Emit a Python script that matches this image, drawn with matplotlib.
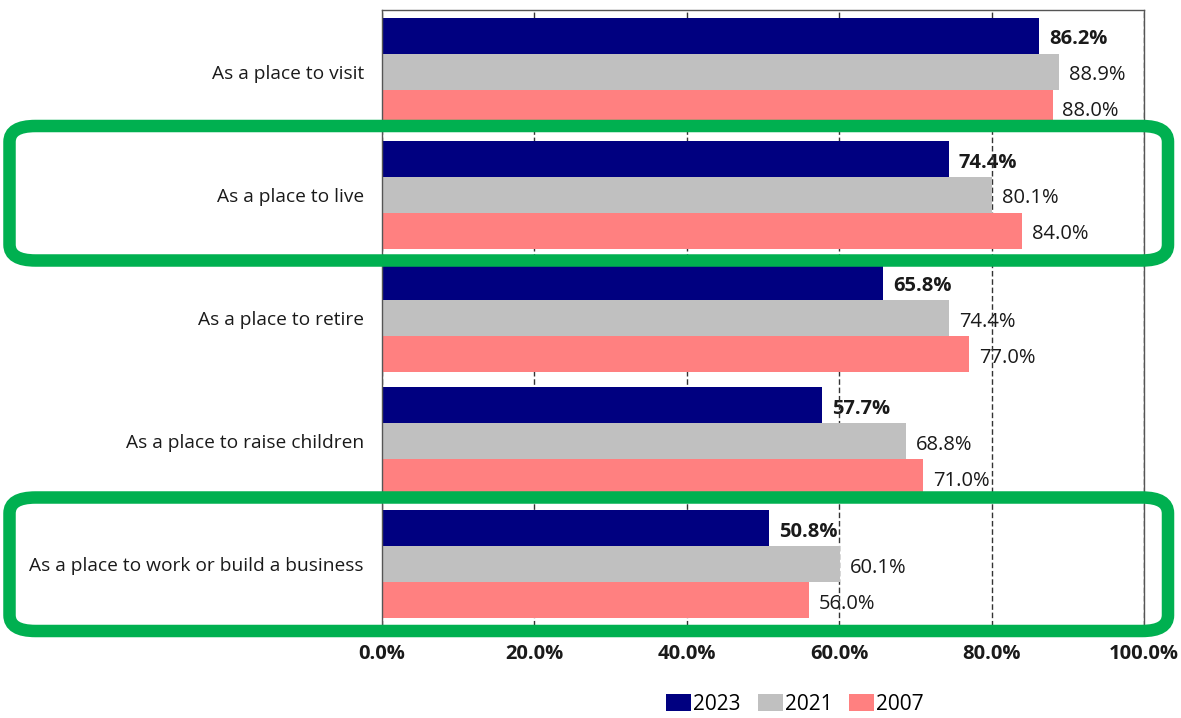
import numpy as np
import matplotlib.pyplot as plt
from matplotlib.patches import FancyBboxPatch

plt.rcParams["font.family"] = ["Open Sans", "DejaVu Sans"]

# ---------------- data ----------------
categories = [
    "As a place to visit",
    "As a place to live",
    "As a place to retire",
    "As a place to raise children",
    "As a place to work or build a business",
]
years = ["2023", "2021", "2007"]
vals_2023 = [86.2, 74.4, 65.8, 57.7, 50.8]
vals_2021 = [88.9, 80.1, 74.4, 68.8, 60.1]
vals_2007 = [88.0, 84.0, 77.0, 71.0, 56.0]
colors = ["#000080", "#C0C0C0", "#FF8080"]
x_ticks = [0, 20, 40, 60, 80, 100]

W, H = 1181, 718
fig = plt.figure(figsize=(W / 100, H / 100), dpi=100)
ax = fig.add_axes([382 / W, 1 - 626 / H, (1144 - 382) / W, (626 - 10) / H])

n = len(categories)
y = np.arange(n)
bh = 0.292
series = [vals_2023, vals_2021, vals_2007]
for i, (vals, col, yr) in enumerate(zip(series, colors, years)):
    pos = y + (i - 1) * bh
    ax.barh(pos, vals, height=bh, color=col, label=yr, zorder=2)
    for p, v in zip(pos, vals):
        ax.text(v + 1.3, p + 0.03, f"{v:.1f}%", va="center", ha="left",
                fontsize=14.5, color="#1a1a1a",
                fontweight="bold" if i == 0 else "normal", zorder=0.4)

ax.set_xlim(0, 100)
ax.set_ylim(n - 0.5, -0.5)
ax.set_yticks(y)
ax.set_yticklabels(categories, fontsize=13.8, color="#1a1a1a")
ax.set_xticks(x_ticks)
ax.set_xticklabels([f"{t:.1f}%" for t in x_ticks], fontsize=14.5,
                   fontweight="bold", color="#1a1a1a")
ax.tick_params(axis="x", length=0, pad=13)
ax.tick_params(axis="y", length=0, pad=13)
ax.set_axisbelow(True)
ax.xaxis.grid(True, color="#333333", linestyle=(0, (4, 2)), linewidth=1)
for s in ax.spines.values():
    s.set_color("#555555")
    s.set_linewidth(1)

fig.legend(loc="center", bbox_to_anchor=(795 / W, 1 - 704 / H), ncol=3,
           frameon=False, fontsize=15, handlelength=1.2, handleheight=0.9,
           handletextpad=0.1, columnspacing=0.8, borderaxespad=0)

# rounded highlight boxes (pixel coordinates of the line centres)
for (x0, y0, x1, y1) in [(9.5, 126, 1168, 260.5), (9.5, 497.5, 1168, 631)]:
    box = FancyBboxPatch((x0 / W, 1 - y1 / H), (x1 - x0) / W, (y1 - y0) / H,
                         boxstyle="round,pad=0,rounding_size=0.022",
                         transform=fig.transFigure, fill=False,
                         edgecolor="#00B050", linewidth=9, zorder=10)
    fig.patches.append(box)

fig.savefig("out.png", dpi=100)
